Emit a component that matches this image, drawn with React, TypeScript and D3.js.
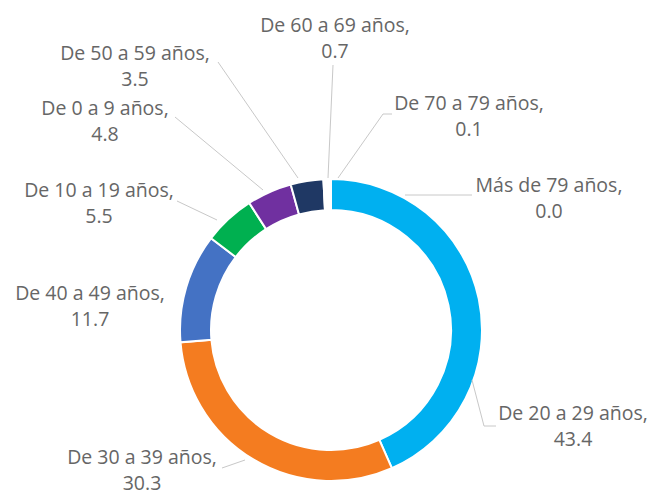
import React from "react";
import * as d3 from "d3";

const categories = [
  "De 20 a 29 años",
  "De 30 a 39 años",
  "De 40 a 49 años",
  "De 10 a 19 años",
  "De 0 a 9 años",
  "De 50 a 59 años",
  "De 60 a 69 años",
  "De 70 a 79 años",
  "Más de 79 años",
];
const values = [43.4, 30.3, 11.7, 5.5, 4.8, 3.5, 0.7, 0.1, 0.0];
const colors = [
  "#00B0F0",
  "#F47C20",
  "#4472C4",
  "#00B050",
  "#7030A0",
  "#1F3864",
  "#FFFFFF",
  "#FFFFFF",
  "#FFFFFF",
];

// label layout (centre x, first baseline) and leader polylines
const labelPos: [number, number][] = [
  [573, 420],
  [142, 464],
  [90, 300],
  [99, 197],
  [105, 115],
  [135, 60],
  [335, 32],
  [469, 110],
  [549, 192],
];
const leaders: [number, number][][] = [
  [[496, 426], [484, 426], [472, 380]],
  [[222, 468], [245, 460]],
  [],
  [[177, 201], [217, 220]],
  [[175, 117], [263, 190]],
  [[218, 62], [298, 178]],
  [[333, 65], [328, 178]],
  [[392, 114], [383, 114], [338, 178]],
  [[472, 195], [405, 195]],
];

const W = 651;
const H = 497;
const CX = 331;
const CY = 330;
const R = 151;
const r = 120;

export default function App() {
  const data = categories.map((c, i) => ({ c, v: values[i], i }));
  const pie = d3
    .pie<{ c: string; v: number; i: number }>()
    .value((d) => d.v)
    .sort(null)
    .startAngle(0)
    .endAngle(2 * Math.PI);
  const arcs = pie(data);
  const arcGen = d3
    .arc<d3.PieArcDatum<{ c: string; v: number; i: number }>>()
    .innerRadius(r)
    .outerRadius(R);
  const line = d3.line();
  const fmt = d3.format(".1f");

  return (
    <svg
      width={W}
      height={H}
      style={{ position: "absolute", left: 0, top: 0, background: "#fff" }}
    >
      <g transform={`translate(${CX},${CY})`}>
        {arcs.map((a) => (
          <path
            key={a.data.c}
            d={arcGen(a) || ""}
            fill={colors[a.data.i]}
            stroke="#fff"
            strokeWidth={2}
          />
        ))}
      </g>
      {leaders.map((pts, i) =>
        pts.length ? (
          <path
            key={"l" + i}
            d={line(pts) || ""}
            fill="none"
            stroke="#C8C8C8"
            strokeWidth={1}
          />
        ) : null
      )}
      {categories.map((c, i) => (
        <text
          key={"t" + i}
          x={labelPos[i][0]}
          y={labelPos[i][1]}
          textAnchor="middle"
          fontFamily="'Open Sans', sans-serif"
          fontSize={19.5}
          fill="#666666"
        >
          <tspan x={labelPos[i][0]}>{c + ","}</tspan>
          <tspan x={labelPos[i][0]} dy={26}>
            {fmt(values[i])}
          </tspan>
        </text>
      ))}
    </svg>
  );
}
